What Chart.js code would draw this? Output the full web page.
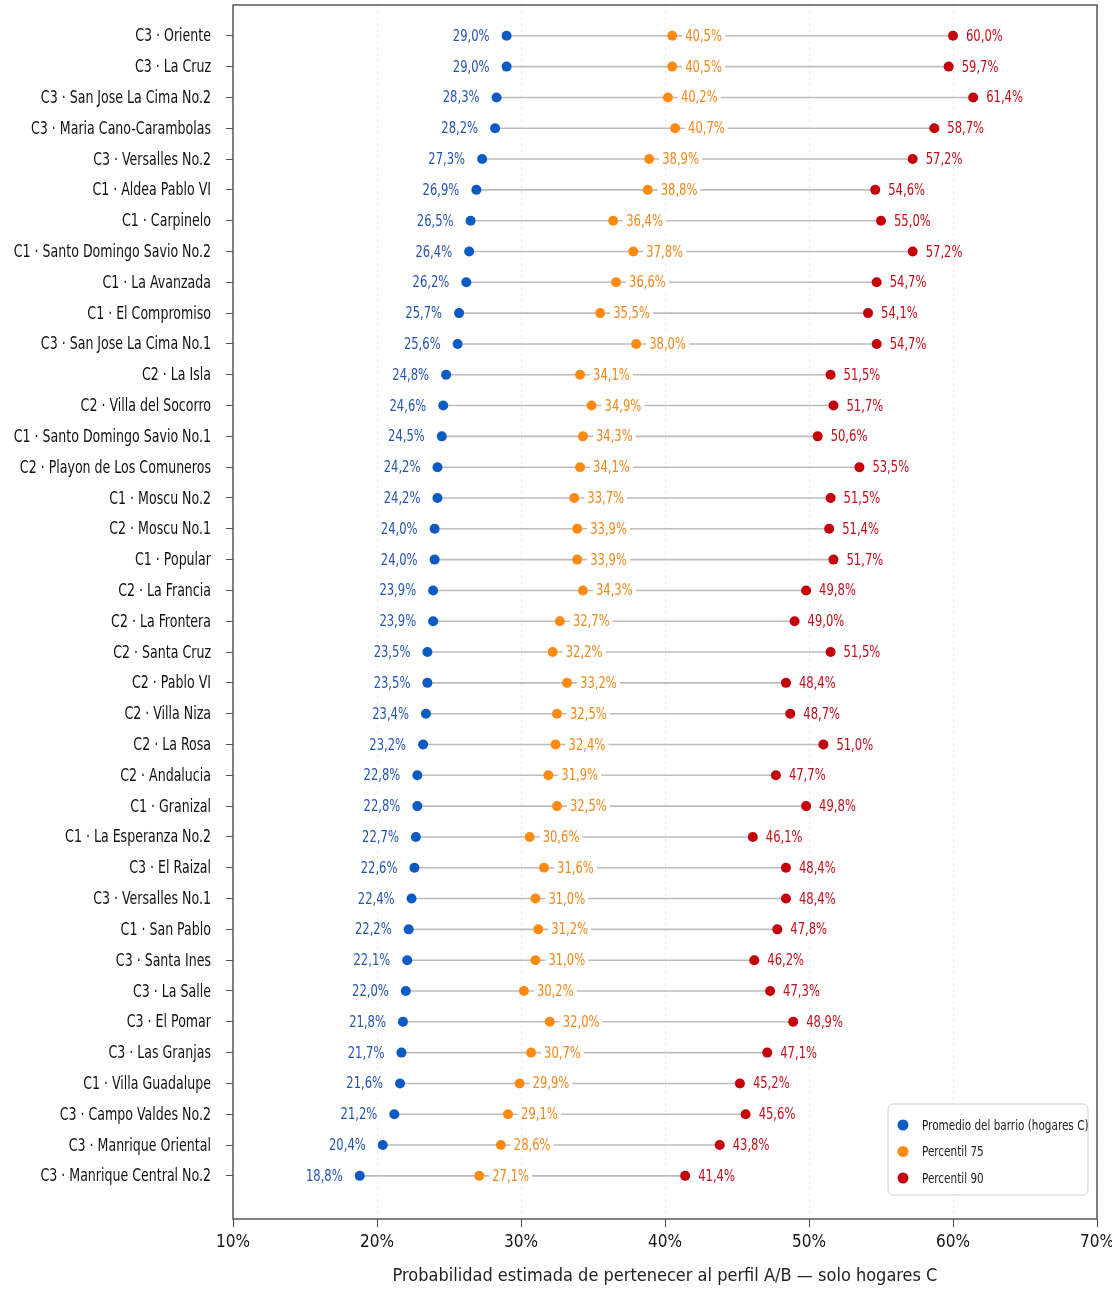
<!DOCTYPE html>
<html>
<head>
<meta charset="utf-8">
<script src="https://cdn.jsdelivr.net/npm/chart.js@4"></script>
<style>
  html, body { margin: 0; padding: 0; background: #fff; }
  #wrap { width: 1112px; height: 1291px; }
</style>
</head>
<body>
<div id="wrap"><canvas id="dotChart"></canvas></div>
<script>
// ==================================================
// 1. DATA
// ==================================================
const barrios = [
    'C3 · Oriente', 'C3 · La Cruz', 'C3 · San Jose La Cima No.2', 'C3 · Maria Cano-Carambolas',
    'C3 · Versalles No.2', 'C1 · Aldea Pablo VI', 'C1 · Carpinelo', 'C1 · Santo Domingo Savio No.2',
    'C1 · La Avanzada', 'C1 · El Compromiso', 'C3 · San Jose La Cima No.1', 'C2 · La Isla',
    'C2 · Villa del Socorro', 'C1 · Santo Domingo Savio No.1', 'C2 · Playon de Los Comuneros',
    'C1 · Moscu No.2', 'C2 · Moscu No.1', 'C1 · Popular', 'C2 · La Francia', 'C2 · La Frontera',
    'C2 · Santa Cruz', 'C2 · Pablo VI', 'C2 · Villa Niza', 'C2 · La Rosa', 'C2 · Andalucia',
    'C1 · Granizal', 'C1 · La Esperanza No.2', 'C3 · El Raizal', 'C3 · Versalles No.1',
    'C1 · San Pablo', 'C3 · Santa Ines', 'C3 · La Salle', 'C3 · El Pomar', 'C3 · Las Granjas',
    'C1 · Villa Guadalupe', 'C3 · Campo Valdes No.2', 'C3 · Manrique Oriental', 'C3 · Manrique Central No.2'
];

const promedio = [29.0, 29.0, 28.3, 28.2, 27.3, 26.9, 26.5, 26.4, 26.2, 25.7, 25.6, 24.8, 24.6, 24.5,
    24.2, 24.2, 24.0, 24.0, 23.9, 23.9, 23.5, 23.5, 23.4, 23.2, 22.8, 22.8, 22.7, 22.6, 22.4, 22.2,
    22.1, 22.0, 21.8, 21.7, 21.6, 21.2, 20.4, 18.8];

const percentil75 = [40.5, 40.5, 40.2, 40.7, 38.9, 38.8, 36.4, 37.8, 36.6, 35.5, 38.0, 34.1, 34.9, 34.3,
    34.1, 33.7, 33.9, 33.9, 34.3, 32.7, 32.2, 33.2, 32.5, 32.4, 31.9, 32.5, 30.6, 31.6, 31.0, 31.2,
    31.0, 30.2, 32.0, 30.7, 29.9, 29.1, 28.6, 27.1];

const percentil90 = [60.0, 59.7, 61.4, 58.7, 57.2, 54.6, 55.0, 57.2, 54.7, 54.1, 54.7, 51.5, 51.7, 50.6,
    53.5, 51.5, 51.4, 51.7, 49.8, 49.0, 51.5, 48.4, 48.7, 51.0, 47.7, 49.8, 46.1, 48.4, 48.4, 47.8,
    46.2, 47.3, 48.9, 47.1, 45.2, 45.6, 43.8, 41.4];

const xTicks = [10, 20, 30, 40, 50, 60, 70];

// ==================================================
// 2. STYLE
// ==================================================
const FONT = "'DejaVu Sans Condensed', 'Liberation Sans Narrow', sans-serif";
const NARROW = 0.83;   // horizontal squeeze, the original uses a narrow face
const series = [
    { label: 'Promedio del barrio (hogares C)', values: promedio,    dot: '#0c5bc2', text: '#2354ad', side: 'left' },
    { label: 'Percentil 75',                    values: percentil75, dot: '#ff8a12', text: '#f3861a', side: 'right' },
    { label: 'Percentil 90',                    values: percentil90, dot: '#c4000b', text: '#c20d18', side: 'right' }
];

const fmt = v => v.toFixed(1).replace('.', ',') + '%';

function narrowText(ctx, txt, x, y, align, squeeze = NARROW) {
    ctx.save();
    ctx.translate(x, y);
    ctx.scale(squeeze, 1);
    ctx.textAlign = align;
    ctx.fillText(txt, 0, 0);
    ctx.restore();
}

// ==================================================
// 3. PLUGINS
// ==================================================
const connectorPlugin = {
    id: 'connector',
    beforeDatasetsDraw(chart) {
        const { ctx, scales: { x, y } } = chart;
        ctx.save();
        ctx.strokeStyle = '#bdbdbd';
        ctx.lineWidth = 1.6;
        barrios.forEach((_, i) => {
            const lo = Math.min(promedio[i], percentil75[i], percentil90[i]);
            const hi = Math.max(promedio[i], percentil75[i], percentil90[i]);
            ctx.beginPath();
            ctx.moveTo(x.getPixelForValue(lo), y.getPixelForValue(i));
            ctx.lineTo(x.getPixelForValue(hi), y.getPixelForValue(i));
            ctx.stroke();
        });
        ctx.restore();
    }
};

const valueLabelPlugin = {
    id: 'valueLabels',
    afterDatasetsDraw(chart) {
        const { ctx, scales: { x, y } } = chart;
        ctx.save();
        ctx.font = '15.5px ' + FONT;
        ctx.textBaseline = 'middle';
        series.forEach(s => {
            s.values.forEach((v, i) => {
                const px = x.getPixelForValue(v);
                const py = y.getPixelForValue(i);
                const txt = fmt(v);
                const w = ctx.measureText(txt).width * NARROW;
                const tx = s.side === 'left' ? px - 17 - w : px + 13;
                ctx.fillStyle = '#ffffff';
                ctx.fillRect(tx - 3, py - 9, w + 6, 18);
                ctx.fillStyle = s.text;
                narrowText(ctx, txt, tx, py + 1, 'left');
            });
        });
        ctx.restore();
    }
};

const categoryLabelPlugin = {
    id: 'categoryLabels',
    afterDraw(chart) {
        const { ctx, scales: { y } } = chart;
        ctx.save();
        ctx.font = '17.5px ' + FONT;
        ctx.textBaseline = 'middle';
        ctx.fillStyle = '#111111';
        barrios.forEach((name, i) => {
            narrowText(ctx, name, y.right - 22, y.getPixelForValue(i) + 1, 'right', 0.80);
        });
        ctx.restore();
    }
};

const framePlugin = {
    id: 'frame',
    afterDraw(chart) {
        const { ctx, chartArea: a } = chart;
        ctx.save();
        ctx.strokeStyle = '#555555';
        ctx.lineWidth = 1.5;
        ctx.strokeRect(a.left, a.top, a.right - a.left, a.bottom - a.top);

        // legend box inside plot area, bottom right
        const bw = 200, bh = 91;
        const bx = a.right - 9 - bw, by = a.bottom - 24 - bh;
        ctx.fillStyle = 'rgba(255,255,255,0.95)';
        ctx.strokeStyle = '#cfcfcf';
        ctx.lineWidth = 1;
        ctx.beginPath();
        ctx.roundRect(bx, by, bw, bh, 5);
        ctx.fill();
        ctx.stroke();
        ctx.font = '14px ' + FONT;
        ctx.textBaseline = 'middle';
        series.forEach((s, k) => {
            const cy = by + 21 + k * 26.5;
            ctx.fillStyle = s.dot;
            ctx.beginPath();
            ctx.arc(bx + 15, cy, 5.5, 0, Math.PI * 2);
            ctx.fill();
            ctx.fillStyle = '#222222';
            narrowText(ctx, s.label, bx + 34, cy + 1, 'left');
        });
        ctx.restore();
    }
};

// ==================================================
// 4. CHART
// ==================================================
new Chart(document.getElementById('dotChart'), {
    type: 'scatter',
    data: {
        datasets: series.map(s => ({
            label: s.label,
            data: s.values.map((v, i) => ({ x: v, y: i })),
            backgroundColor: s.dot,
            borderColor: s.dot,
            pointRadius: 5,
            pointBorderWidth: 0
        }))
    },
    options: {
        responsive: true,
        maintainAspectRatio: false,
        animation: false,
        layout: { padding: { top: 5, right: 15, left: 0, bottom: 0 } },
        plugins: {
            legend: { display: false },
            tooltip: { enabled: false }
        },
        scales: {
            x: {
                type: 'linear',
                min: 10,
                max: 70,
                afterBuildTicks: axis => { axis.ticks = xTicks.map(v => ({ value: v })); },
                ticks: {
                    callback: v => v + '%',
                    color: '#111',
                    font: { family: FONT, size: 17 },
                    padding: 5,
                    maxRotation: 0
                },
                grid: {
                    color: '#ececec',
                    lineWidth: 1,
                    tickColor: '#444',
                    tickLength: 8
                },
                border: { display: false, dash: [3, 3] },
                title: {
                    display: true,
                    text: 'Probabilidad estimada de pertenecer al perfil A/B — solo hogares C',
                    color: '#222',
                    font: { family: FONT, size: 18 },
                    padding: { top: 15 }
                },
                afterFit: scale => {
                    scale.height = 72;
                    scale.paddingLeft = 0;
                    scale.paddingRight = 0;
                }
            },
            y: {
                type: 'linear',
                reverse: true,
                min: -1,
                max: 38.4,
                afterBuildTicks: axis => { axis.ticks = barrios.map((_, i) => ({ value: i })); },
                ticks: {
                    callback: () => '',
                    padding: 14,
                    autoSkip: false
                },
                grid: {
                    drawOnChartArea: false,
                    tickColor: '#555',
                    tickLength: 7
                },
                border: { display: false },
                afterFit: scale => {
                    scale.width = 233;
                    scale.paddingTop = 0;
                    scale.paddingBottom = 0;
                }
            }
        }
    },
    plugins: [connectorPlugin, valueLabelPlugin, categoryLabelPlugin, framePlugin]
});
</script>
</body>
</html>
